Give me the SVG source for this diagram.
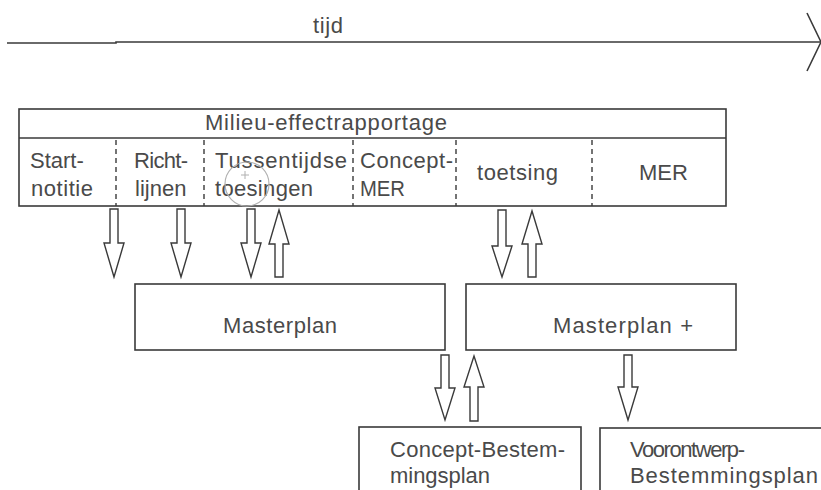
<svg xmlns="http://www.w3.org/2000/svg" width="821" height="490" viewBox="0 0 821 490">
<style>
  .ln{fill:none;stroke:#3a3a3a;stroke-width:1.6}
  .box{fill:#fff;stroke:#3a3a3a;stroke-width:1.6}
  .dash{fill:none;stroke:#3a3a3a;stroke-width:1.4;stroke-dasharray:5 4}
  .arr{fill:#fff;stroke:#3a3a3a;stroke-width:1.4;stroke-linejoin:miter}
  text{font-family:"Liberation Sans",Arial,sans-serif;font-size:22px;fill:#4a4a4a}
</style>
<rect width="821" height="490" fill="#fff"/>
<g id="timeline">
  <polyline class="ln" points="7,43 116,43 116,42 821,42"/>
  <polyline class="ln" points="807,13 821,42 807,71"/>
  <text x="313" y="33" textLength="30" lengthAdjust="spacing">tijd</text>
</g>
<g id="mer">
  <rect class="box" x="19" y="109" width="707" height="97"/>
  <line class="ln" x1="19" y1="138" x2="726" y2="138"/>
  <text x="205" y="130" textLength="242" lengthAdjust="spacing">Milieu-effectrapportage</text>
  <line class="dash" x1="116" y1="140" x2="116" y2="206"/>
  <line class="dash" x1="204" y1="140" x2="204" y2="206"/>
  <line class="dash" x1="353" y1="140" x2="353" y2="206"/>
  <line class="dash" x1="456" y1="140" x2="456" y2="206"/>
  <line class="dash" x1="592" y1="140" x2="592" y2="206"/>
</g>
<g id="startnotitie">
  <text x="30" y="168">Start-</text>
  <text x="31" y="196" textLength="62" lengthAdjust="spacing">notitie</text>
</g>
<g id="richtlijnen">
  <text x="134" y="168" textLength="54" lengthAdjust="spacing">Richt-</text>
  <text x="135" y="196">lijnen</text>
</g>
<g id="tussentijdse">
  <text x="215" y="168" textLength="132" lengthAdjust="spacing">Tussentijdse</text>
  <text x="215" y="196" textLength="98" lengthAdjust="spacing">toesingen</text>
  <circle cx="247" cy="184" r="22" fill="none" stroke="#b0b0b0" stroke-width="1.2"/>
  <path d="M241 175h8M245 171v8" stroke="#b0b0b0" stroke-width="1" fill="none"/>
</g>
<g id="conceptmer">
  <text x="360" y="168" textLength="93" lengthAdjust="spacing">Concept-</text>
  <text x="360" y="196" textLength="45" lengthAdjust="spacingAndGlyphs">MER</text>
</g>
<g id="toetsing">
  <text x="477" y="180" textLength="81" lengthAdjust="spacing">toetsing</text>
</g>
<g id="mer-final">
  <text x="639" y="180">MER</text>
</g>
<g id="masterplan">
  <rect class="box" x="135" y="284" width="310" height="66"/>
  <text x="223" y="333" textLength="114" lengthAdjust="spacing">Masterplan</text>
</g>
<g id="masterplan-plus">
  <rect class="box" x="466" y="284" width="270" height="66"/>
  <text x="553" y="333" textLength="140" lengthAdjust="spacing">Masterplan +</text>
</g>
<g id="concept-bestemmingsplan">
  <rect class="box" x="359" y="427" width="222" height="80"/>
  <text x="390" y="457" textLength="175" lengthAdjust="spacing">Concept-Bestem-</text>
  <text x="390" y="483" textLength="100" lengthAdjust="spacing">mingsplan</text>
</g>
<g id="voorontwerp-bestemmingsplan">
  <rect class="box" x="600" y="428" width="240" height="80"/>
  <text x="630" y="457" textLength="115" lengthAdjust="spacing">Voorontwerp-</text>
  <text x="630" y="483" textLength="188" lengthAdjust="spacing">Bestemmingsplan</text>
</g>
<g id="connectors">
  <polygon class="arr" points="110,209 118,209 118,243 124,243 114,277 104,243 110,243"/>
  <polygon class="arr" points="177,209 185,209 185,243 191,243 181,277 171,243 177,243"/>
  <polygon class="arr" points="247,209 255,209 255,243 261,243 251,277 241,243 247,243"/>
  <polygon class="arr" points="275,277 283,277 283,244 289,244 279,210 269,244 275,244"/>
  <polygon class="arr" points="498,210 506,210 506,246 512,246 502,277 492,246 498,246"/>
  <polygon class="arr" points="528,277 536,277 536,244 542,244 532,211 522,244 528,244"/>
  <polygon class="arr" points="441,355 449,355 449,388 455,388 445,420 435,388 441,388"/>
  <polygon class="arr" points="470,421 478,421 478,387 484,387 474,356 464,387 470,387"/>
  <polygon class="arr" points="624,355 632,355 632,387 638,387 628,420 618,387 624,387"/>
</g>
</svg>
